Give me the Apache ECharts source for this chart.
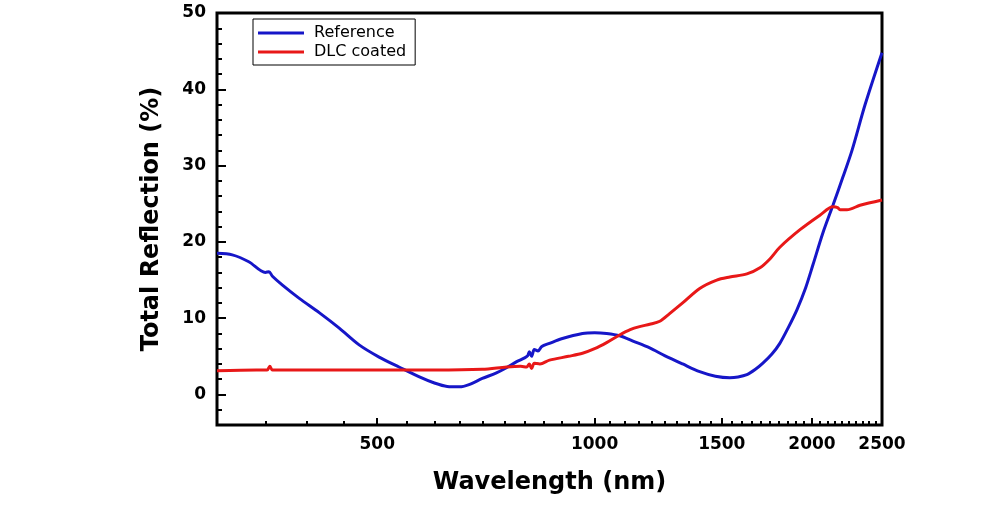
<!DOCTYPE html>
<html>
<head>
<meta charset="utf-8">
<script src="https://cdn.jsdelivr.net/npm/echarts@6/dist/echarts.min.js"></script>
<style>
html,body{margin:0;padding:0;background:#fff;}
#chart{width:1003px;height:507px;}
</style>
</head>
<body>
<div id="chart"></div>
<script>
// Data
const refWavelength = [300, 315, 332, 350, 354, 358, 370, 390, 416, 443, 472, 503, 536, 572, 600, 625, 650, 670, 699, 730, 755, 780, 800, 808, 812, 818, 825, 835, 845, 866, 900, 962, 1000, 1039, 1083, 1130, 1192, 1250, 1324, 1398, 1470, 1539, 1580, 1625, 1670, 1710, 1760, 1805, 1855, 1906, 1960, 2006, 2071, 2138, 2207, 2272, 2369, 2500];
const refValues     = [18.5, 18.3, 17.4, 16.0, 16.1, 15.5, 14.3, 12.6, 10.7, 8.7, 6.5, 4.9, 3.6, 2.3, 1.5, 1.05, 1.0, 1.3, 2.1, 2.8, 3.5, 4.3, 4.8, 5.1, 5.6, 5.0, 5.9, 5.7, 6.3, 6.7, 7.3, 8.0, 8.1, 8.0, 7.7, 7.0, 6.1, 5.1, 4.0, 3.0, 2.4, 2.2, 2.3, 2.6, 3.3, 4.1, 5.3, 6.7, 8.8, 11.1, 14.0, 17.0, 21.2, 24.8, 28.5, 32.0, 38.0, 44.8];

const dlcWavelength = [300, 340, 352, 355, 358, 400, 500, 600, 699, 755, 790, 805, 812, 818, 825, 840, 866, 920, 962, 1000, 1039, 1083, 1120, 1154, 1192, 1231, 1270, 1324, 1398, 1476, 1539, 1625, 1694, 1750, 1805, 1925, 2051, 2138, 2170, 2187, 2236, 2331, 2500];
const dlcValues     = [3.1, 3.2, 3.2, 3.7, 3.2, 3.2, 3.2, 3.2, 3.3, 3.6, 3.7, 3.6, 4.0, 3.4, 4.1, 4.0, 4.5, 5.0, 5.4, 6.0, 6.8, 7.8, 8.5, 8.9, 9.2, 9.6, 10.6, 12.0, 13.9, 15.0, 15.4, 15.8, 16.6, 17.8, 19.3, 21.6, 23.5, 24.6, 24.5, 24.2, 24.2, 24.8, 25.5];

const xTickLabels = [500, 1000, 1500, 2000, 2500];
const xMinorTicks = [350, 400, 450, 550, 600, 650, 700, 750, 800, 850, 900, 950, 1050, 1100, 1150, 1200, 1250, 1300, 1350, 1400, 1450, 1550, 1600, 1650, 1700, 1750, 1800, 1850, 1900, 1950, 2050, 2100, 2150, 2200, 2250, 2300, 2350, 2400, 2450];
const yTickLabels = [0, 10, 20, 30, 40, 50];
const yMinorTicks = [-2, 2, 4, 6, 8, 12, 14, 16, 18, 22, 24, 26, 28, 32, 34, 36, 38, 42, 44, 46, 48];

const seriesNames = ['Reference', 'DLC coated'];

const pair = (xs, ys) => xs.map((x, i) => [x, ys[i]]);

const chart = echarts.init(document.getElementById('chart'), null, {renderer: 'canvas'});

const labelFont = {fontFamily: 'DejaVu Sans', fontWeight: 'bold', fontSize: 17, color: '#000'};
const nameFont = {fontFamily: 'DejaVu Sans', fontWeight: 'bold', fontSize: 24, color: '#000'};

const baseX = {
  type: 'log', logBase: 10, min: 300, max: 2500,
  gridIndex: 0, position: 'bottom',
  splitLine: {show: false}, axisLine: {show: false, onZero: false}
};
const baseY = {
  type: 'value', min: -4, max: 50,
  gridIndex: 0, position: 'left',
  splitLine: {show: false}, axisLine: {show: false, onZero: false}
};

chart.setOption({
  backgroundColor: '#fff',
  animation: false,
  grid: {left: 217, right: 121, top: 13, bottom: 82, containLabel: false, outerBoundsMode: 'none', show: true, borderColor: '#000', borderWidth: 3, backgroundColor: 'transparent'},
  legend: {
    orient: 'vertical', left: 253, top: 19,
    padding: [6, 9, 5, 5],
    borderColor: '#000', borderWidth: 1,
    icon: 'rect',
    itemWidth: 46, itemHeight: 3, itemGap: 3,
    data: seriesNames,
    textStyle: {fontFamily: 'DejaVu Sans', fontSize: 16, color: '#000', padding: [0, 0, 0, 5]}
  },
  xAxis: [
    Object.assign({}, baseX, {
      name: 'Wavelength (nm)', nameLocation: 'middle', nameGap: 46, nameTextStyle: nameFont,
      axisTick: {show: true, inside: true, length: 7, lineStyle: {color: '#000', width: 2}, customValues: xTickLabels},
      axisLabel: Object.assign({show: true, margin: 11, customValues: xTickLabels, formatter: v => String(Math.round(v))}, labelFont)
    }),
    Object.assign({}, baseX, {
      axisTick: {show: true, inside: true, length: 4, lineStyle: {color: '#000', width: 2}, customValues: xMinorTicks},
      axisLabel: {show: false}
    })
  ],
  yAxis: [
    Object.assign({}, baseY, {
      name: 'Total Reflection (%)', nameLocation: 'middle', nameGap: 53, nameRotate: 90, nameTextStyle: nameFont,
      axisTick: {show: true, inside: true, length: 9, lineStyle: {color: '#000', width: 2}, customValues: yTickLabels},
      axisLabel: Object.assign({show: true, margin: 11, customValues: yTickLabels, formatter: v => String(Math.round(v))}, labelFont)
    }),
    Object.assign({}, baseY, {
      axisTick: {show: true, inside: true, length: 5, lineStyle: {color: '#000', width: 2}, customValues: yMinorTicks},
      axisLabel: {show: false}
    })
  ],
  series: [
    {
      name: seriesNames[0], type: 'line', xAxisIndex: 0, yAxisIndex: 0,
      data: pair(refWavelength, refValues),
      showSymbol: false, symbol: 'none', smooth: 0.3,
      lineStyle: {color: '#1616c8', width: 3}, itemStyle: {color: '#1616c8'}
    },
    {
      name: seriesNames[1], type: 'line', xAxisIndex: 0, yAxisIndex: 0,
      data: pair(dlcWavelength, dlcValues),
      showSymbol: false, symbol: 'none', smooth: 0.3,
      lineStyle: {color: '#e81818', width: 3}, itemStyle: {color: '#e81818'}
    }
  ]
});
</script>
</body>
</html>
